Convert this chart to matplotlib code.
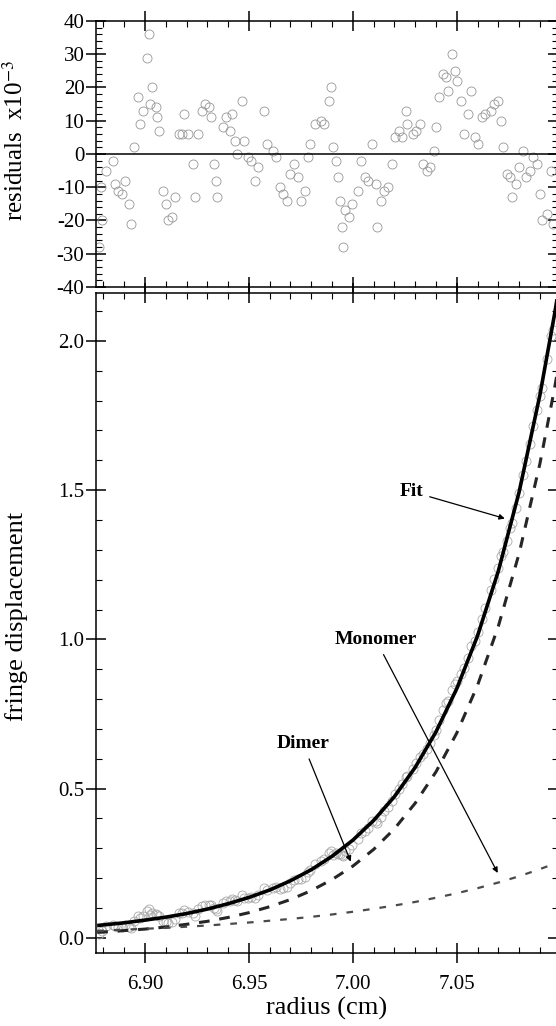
import numpy as np
import matplotlib
matplotlib.use("Agg")
import matplotlib.pyplot as plt
from matplotlib.ticker import MultipleLocator, FormatStrFormatter

plt.rcParams['font.family'] = ['Liberation Serif', 'DejaVu Serif']
plt.rcParams['mathtext.fontset'] = 'stix'
plt.rcParams['axes.unicode_minus'] = False

# ---------------- residuals (x10^-3) ----------------
radius_res = [
    6.8778, 6.8787, 6.8795, 6.8812, 6.8846, 6.8855, 6.8872, 6.8889, 6.8906, 6.8923,
    6.8932, 6.8949, 6.8966, 6.8974, 6.8991, 6.9009, 6.9017, 6.9026, 6.9034, 6.9051,
    6.9060, 6.9068, 6.9085, 6.9102, 6.9111, 6.9128, 6.9145, 6.9162, 6.9179, 6.9188,
    6.9205, 6.9230, 6.9239, 6.9256, 6.9273, 6.9290, 6.9307, 6.9316, 6.9333, 6.9341,
    6.9345, 6.9375, 6.9392, 6.9409, 6.9418, 6.9435, 6.9444, 6.9469, 6.9478, 6.9495,
    6.9512, 6.9529, 6.9546, 6.9572, 6.9589, 6.9614, 6.9631, 6.9648, 6.9665, 6.9682,
    6.9700, 6.9717, 6.9734, 6.9751, 6.9768, 6.9785, 6.9793, 6.9819, 6.9845, 6.9862,
    6.9887, 6.9896, 6.9904, 6.9921, 6.9930, 6.9938, 6.9947, 6.9955, 6.9964, 6.9981,
    6.9998, 7.0024, 7.0041, 7.0058, 7.0075, 7.0092, 7.0109, 7.0117, 7.0134, 7.0152,
    7.0169, 7.0186, 7.0203, 7.0220, 7.0237, 7.0254, 7.0262, 7.0288, 7.0305, 7.0322,
    7.0339, 7.0356, 7.0373, 7.0390, 7.0399, 7.0416, 7.0433, 7.0450, 7.0459, 7.0476,
    7.0493, 7.0501, 7.0518, 7.0535, 7.0552, 7.0570, 7.0587, 7.0604, 7.0621, 7.0638,
    7.0664, 7.0680, 7.0697, 7.0715, 7.0723, 7.0740, 7.0757, 7.0766, 7.0783, 7.0800,
    7.0817, 7.0834, 7.0851, 7.0868, 7.0885, 7.0902, 7.0911, 7.0936, 7.0953, 7.0962,
]
residuals = [
    -28, -10, -20, -5, -2, -9, -11, -12, -8, -15,
    -21, 2, 17, 9, 13, 29, 36, 15, 20, 14,
    11, 7, -11, -15, -20, -19, -13, 6, 6, 12,
    6, -3, -13, 6, 13, 15, 14, 11, -3, -8,
    -13, 8, 11, 7, 12, 4, 0, 16, 4, -1,
    -2, -8, -4, 13, 3, 1, -1, -10, -12, -14,
    -6, -3, -7, -14, -11, -1, 3, 9, 10, 9,
    16, 20, 2, -2, -7, -14, -22, -28, -17, -19,
    -15, -11, -2, -7, -8, 3, -9, -22, -14, -11,
    -10, -3, 5, 7, 5, 13, 9, 6, 7, 9,
    -3, -5, -4, 1, 8, 17, 24, 23, 19, 30,
    25, 22, 16, 6, 12, 19, 5, 3, 11, 12,
    13, 15, 16, 10, 2, -6, -7, -13, -9, -4,
    1, -7, -5, -1, -3, -12, -20, -18, -5, -21,
]

# ---------------- model curves ----------------
curve_x = [6.877, 6.88, 6.89, 6.90, 6.91, 6.92, 6.93, 6.94, 6.95, 6.96, 6.97, 6.98,
           6.99, 7.00, 7.01, 7.02, 7.03, 7.04, 7.05, 7.06, 7.07, 7.08, 7.09, 7.097, 7.10]
fit_y = [0.041, 0.043, 0.050, 0.059, 0.069, 0.081, 0.096, 0.114, 0.135, 0.160, 0.191, 0.228,
         0.273, 0.327, 0.393, 0.473, 0.571, 0.690, 0.835, 1.012, 1.229, 1.494, 1.819, 2.088, 2.216]
dimer_y = [0.018, 0.019, 0.024, 0.029, 0.036, 0.045, 0.055, 0.068, 0.084, 0.104, 0.128, 0.158,
           0.195, 0.240, 0.296, 0.365, 0.451, 0.556, 0.686, 0.846, 1.044, 1.288, 1.589, 1.840, 1.960]
monomer_y = [0.023, 0.024, 0.027, 0.030, 0.033, 0.037, 0.041, 0.046, 0.051, 0.057, 0.063, 0.070,
             0.078, 0.087, 0.097, 0.108, 0.120, 0.134, 0.149, 0.166, 0.185, 0.206, 0.230, 0.248, 0.256]

# observed fringe displacement = fit + residual
observed = np.interp(radius_res, curve_x, fit_y) + np.array(residuals) / 1000.0

fig = plt.figure(figsize=(5.56, 10.26), dpi=100)
ax1 = fig.add_axes([0.1718, 0.7203, 0.8318, 0.2593])
ax2 = fig.add_axes([0.1718, 0.0712, 0.8318, 0.6433])

xlim = (6.8762, 7.0987)

# ---- residual panel ----
ax1.plot(radius_res, residuals, 'o', ms=6.5, mfc='none', mec='#969696', mew=0.6)
ax1.axhline(0, color='black', lw=1.1)
ax1.set_xlim(*xlim)
ax1.set_ylim(-40, 40)
ax1.yaxis.set_major_locator(MultipleLocator(10))
ax1.yaxis.set_minor_locator(MultipleLocator(2))
ax1.set_ylabel('residuals  x10$^{-3}$', fontsize=18)
ax1.yaxis.set_label_coords(-0.146, 0.55)
ax1.tick_params(labelbottom=False)

# ---- main panel ----
ax2.plot(radius_res, observed, 'o', ms=6.5, mfc='none', mec='#a8a8a8', mew=0.6)
ax2.plot(curve_x, fit_y, color='black', lw=2.6, solid_capstyle='butt')
ax2.plot(curve_x, dimer_y, color='#262626', lw=2.2, linestyle=(0, (3.5, 3.2)))
ax2.plot(curve_x, monomer_y, color='#4a4a4a', lw=1.6, linestyle=(0, (3.0, 4.5)))
ax2.set_xlim(*xlim)
ax2.set_ylim(-0.051, 2.161)
ax2.yaxis.set_major_locator(MultipleLocator(0.5))
ax2.yaxis.set_minor_locator(MultipleLocator(0.1))
ax2.yaxis.set_major_formatter(FormatStrFormatter('%.1f'))
ax2.set_ylabel('fringe displacement', fontsize=19)
ax2.yaxis.set_label_coords(-0.146, 0.51)
ax2.set_xlabel('radius (cm)', fontsize=19)
ax2.xaxis.set_label_coords(0.5, -0.067)

arrow = dict(arrowstyle='-|>', color='black', lw=0.9, mutation_scale=8, shrinkA=3, shrinkB=0)
ax2.annotate('Fit', xy=(7.0731, 1.405), xytext=(7.028, 1.496), fontsize=14, fontweight='bold',
             ha='center', va='center', arrowprops=arrow)
ax2.annotate('Monomer', xy=(7.0697, 0.217), xytext=(7.011, 0.999), fontsize=14, fontweight='bold',
             ha='center', va='center', arrowprops=arrow)
ax2.annotate('Dimer', xy=(6.999, 0.255), xytext=(6.976, 0.65), fontsize=14, fontweight='bold',
             ha='center', va='center', arrowprops=arrow)

for ax in (ax1, ax2):
    ax.xaxis.set_major_locator(MultipleLocator(0.05))
    ax.xaxis.set_minor_locator(MultipleLocator(0.01))
    ax.xaxis.set_major_formatter(FormatStrFormatter('%.2f'))
    ax.tick_params(which='major', direction='inout', length=14, width=1.1,
                   top=True, right=True, labelsize=15)
    ax.tick_params(which='minor', direction='in', length=4, width=0.8, top=True, right=True)
    ax.tick_params(axis='x', which='major', pad=9)
    ax.tick_params(axis='y', which='major', pad=1)
    for s in ax.spines.values():
        s.set_linewidth(1.1)

fig.savefig('out.png', dpi=100)
